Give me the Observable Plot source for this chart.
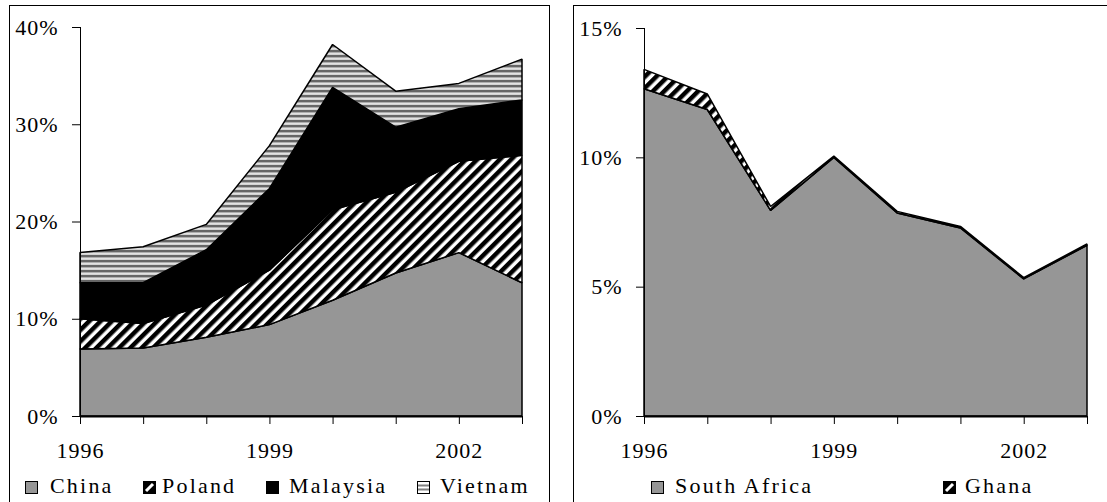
<!DOCTYPE html>
<html><head><meta charset="utf-8">
<script src="https://cdn.jsdelivr.net/npm/d3@7"></script>
<script src="https://cdn.jsdelivr.net/npm/@observablehq/plot@0.6"></script>
<style>
html,body{margin:0;padding:0;background:#fff;}
body{width:1107px;height:502px;position:relative;overflow:hidden;font-family:"Liberation Serif","Times New Roman",Tinos,"DejaVu Serif",serif;color:#000;}
.box{position:absolute;border:1.5px solid #000;box-sizing:border-box;}
.chart{position:absolute;top:0;}
.sw{position:absolute;}
.lt{position:absolute;font-size:22px;letter-spacing:2.2px;line-height:22px;white-space:nowrap;}
svg text{font-family:"Liberation Serif","Times New Roman",Tinos,"DejaVu Serif",serif;}
</style>
</head><body>
<svg width="0" height="0" style="position:absolute">
  <defs>
    <pattern id="diag" patternUnits="userSpaceOnUse" width="8" height="8" patternTransform="rotate(45)">
      <rect x="0" y="0" width="8" height="8" fill="#fff"/>
      <rect x="0" y="0" width="4.5" height="8" fill="#000"/>
    </pattern>
    <pattern id="horiz" patternUnits="userSpaceOnUse" width="8" height="5">
      <rect x="0" y="0" width="8" height="5" fill="#fff"/>
      <rect x="0" y="0" width="8" height="2.3" fill="#666"/>
      <rect x="0" y="2.3" width="8" height="1" fill="#a0a0a0"/>
      <rect x="0" y="4.2" width="8" height="0.8" fill="#c8c8c8"/>
    </pattern>
  </defs>
</svg>
<div class="box" style="left:9px;top:5px;width:541px;height:520px;"></div>
<div class="box" style="left:573px;top:5px;width:560px;height:520px;"></div>
<div id="left" class="chart" style="left:0px;"></div>
<div id="right" class="chart" style="left:560px;"></div>
<div id="legend"></div>
<script>
// ---- data ----
const years = [1996, 1997, 1998, 1999, 2000, 2001, 2002, 2003];
const labelYears = [1996, 1999, 2002];

const leftSeries = ["China", "Poland", "Malaysia", "Vietnam"];
const china    = [6.9, 7.0, 8.1, 9.4, 11.9, 14.7, 16.8, 13.7];
const poland   = [3.1, 2.5, 3.3, 5.6, 9.3, 8.3, 9.4, 13.1];
const malaysia = [3.7, 4.2, 5.7, 8.4, 12.6, 6.7, 5.4, 5.7];
const vietnam  = [3.1, 3.7, 2.6, 4.4, 4.4, 3.7, 2.6, 4.2];
const leftTicks = [0, 10, 20, 30, 40];

const rightSeries = ["South Africa", "Ghana"];
const southAfrica = [12.65, 11.85, 7.95, 10.0, 7.85, 7.27, 5.3, 6.6];
const ghana       = [0.75, 0.6, 0.15, 0.05, 0.06, 0.06, 0.05, 0.05];
const rightTicks = [0, 5, 10, 15];

const leftValues = [china, poland, malaysia, vietnam];
const rightValues = [southAfrica, ghana];
const leftData = leftSeries.flatMap((s, i) => years.map((y, j) => ({year: y, country: s, value: leftValues[i][j]})));
const rightData = rightSeries.flatMap((s, i) => years.map((y, j) => ({year: y, country: s, value: rightValues[i][j]})));

const fills = {"China": "#969696", "Poland": "url(#diag)", "Malaysia": "#000", "Vietnam": "url(#horiz)", "South Africa": "#969696", "Ghana": "url(#diag)"};
const FONT = "'Liberation Serif', 'Times New Roman', Tinos, 'DejaVu Serif', serif";

function panel(data, series, yMax, yTicks, opts) {
  return Plot.plot({
    width: opts.width, height: 470,
    marginLeft: opts.ml, marginRight: opts.mr, marginTop: opts.mt, marginBottom: 54,
    style: {fontFamily: FONT, fontSize: "22px", background: "transparent", color: "#000", overflow: "visible", letterSpacing: "1px"},
    x: {domain: [years[0], years[years.length - 1]]},
    y: {domain: [0, yMax]},
    color: {domain: series, range: series.map(s => fills[s])},
    marks: [
      Plot.areaY(data, {x: "year", y: "value", fill: "country", z: "country", order: series, stroke: "#000", strokeWidth: 1.5, strokeLinejoin: "miter"}),
      Plot.ruleX([years[0]], {stroke: "#000", strokeWidth: 1}),
      Plot.ruleY([0], {stroke: "#000", strokeWidth: 2}),
      Plot.axisY({ticks: yTicks, tickFormat: d => d + "%", tickSize: 8, tickPadding: 14, label: null, fontSize: 22}),
      Plot.axisX({ticks: years, tickFormat: d => labelYears.includes(d) ? String(d) : "", tickSize: 8, tickPadding: 18, label: null, fontSize: 22})
    ]
  });
}

document.getElementById("left").append(panel(leftData, leftSeries, 40, leftTicks, {width: 550, ml: 80, mr: 28, mt: 27}));
document.getElementById("right").append(panel(rightData, rightSeries, 15, rightTicks, {width: 547, ml: 84, mr: 20, mt: 28}));

// ---- legends (HTML, below the SVGs) ----
const legendItems = [
  {label: "China", sw: 25, tx: 50},
  {label: "Poland", sw: 143, tx: 162},
  {label: "Malaysia", sw: 266, tx: 289},
  {label: "Vietnam", sw: 417, tx: 440},
  {label: "South Africa", sw: 651, tx: 675},
  {label: "Ghana", sw: 943, tx: 965}
];
const leg = document.getElementById("legend");
for (const it of legendItems) {
  const f = fills[it.label];
  let inner;
  if (f === "url(#diag)") {
    inner = `<rect x="0.5" y="0.5" width="12" height="12" fill="#000" stroke="#000"/><line x1="3" y1="10" x2="10" y2="3" stroke="#fff" stroke-width="3"/>`;
  } else if (f === "url(#horiz)") {
    inner = `<rect x="0.5" y="0.5" width="12" height="12" fill="#fff" stroke="#000"/><rect x="1" y="3.5" width="11" height="2" fill="#808080"/><rect x="1" y="7.5" width="11" height="2" fill="#808080"/>`;
  } else {
    inner = `<rect x="0.5" y="0.5" width="12" height="12" fill="${f}" stroke="#000"/>`;
  }
  leg.insertAdjacentHTML("beforeend", `<svg class="sw" width="13" height="13" style="left:${it.sw}px;top:481px">${inner}</svg><div class="lt" style="left:${it.tx}px;top:475px">${it.label}</div>`);
}
</script>
</body></html>
